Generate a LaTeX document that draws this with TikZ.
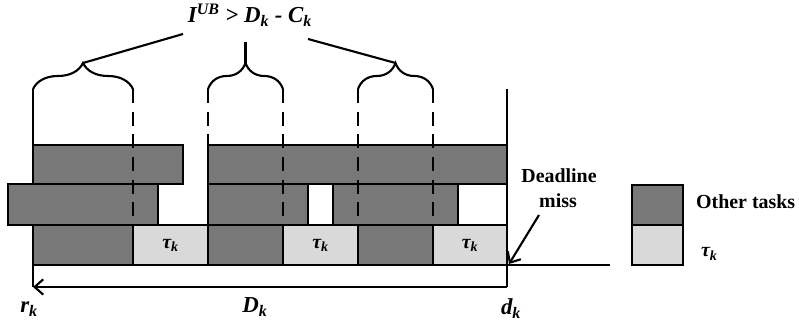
\documentclass[tikz,border=0pt]{standalone}
\usepackage{fontspec}
\setmainfont{Liberation Serif}
\usetikzlibrary{decorations.pathreplacing,arrows.meta}

\tikzset{
    other/.style={draw,line width=1.8pt,fill=black!53},
    own/.style={draw,line width=1.8pt,fill=black!15},
    guide/.style={line width=1.8pt,dash pattern=on 4.2mm off 2.6mm},
    curly/.style={line width=1.8pt,decorate,decoration={brace,amplitude=7.8mm}},
    barb/.style={line width=1.8pt,-{Straight Barb[length=2.6mm,width=4.6mm]}},
    big/.style={font=\fontsize{19.5}{23}\selectfont\bfseries\itshape},
    small/.style={font=\fontsize{17}{20}\selectfont\bfseries},
    task/.style={font=\fontsize{17}{20}\selectfont\bfseries\itshape}
}

\begin{document}
\begin{tikzpicture}[x=0.3mm,y=-0.3mm]
    \useasboundingbox (0,0) rectangle (799,322);
    % Important coordinates are defined
    \coordinate (rk) at (33,287);
    \coordinate (dk) at (507,287);
    \coordinate (miss) at (509,264);
    \coordinate (tip_1) at (83,63);
    \coordinate (tip_2) at (245.5,63);
    \coordinate (tip_3) at (395.5,63);
    \coordinate (end_1) at (183,34);
    \coordinate (end_2) at (245.5,42);
    \coordinate (end_3) at (308,39);

    % top row
    \draw[other] (33,145) rectangle (183,184);
    \draw[other] (208,145) rectangle (507,184);
    % middle row
    \draw[other] (8,184) rectangle (158,225);
    \draw[other] (208,184) rectangle (308,225);
    \draw[other] (333,184) rectangle (458,225);
    % bottom row
    \draw[other] (33,225) rectangle (133,265);
    \draw[own] (133,225) rectangle (208,265) node[task,midway] (tau_1) {τ\textsubscript{k}};
    \draw[other] (208,225) rectangle (283,265);
    \draw[own] (283,225) rectangle (358,265) node[task,midway] (tau_2) {τ\textsubscript{k}};
    \draw[other] (358,225) rectangle (433,265);
    \draw[own] (433,225) rectangle (507,265) node[task,midway] (tau_3) {τ\textsubscript{k}};
    \draw[line width=1.8pt] (507,265) -- (610,265);

    % dashed guides
    \draw[guide] (133,89) -- (133,225);
    \draw[guide] (208,89) -- (208,145);
    \draw[guide] (283,89) -- (283,225);
    \draw[guide] (358,89) -- (358,225);
    \draw[guide] (433,89) -- (433,225);
    \draw[line width=1.8pt] (33,89) -- (33,145);
    \draw[line width=1.8pt] (33,265) -- (rk);
    \draw[line width=1.8pt] (507,89) -- (dk);

    % braces
    \draw[curly] (33,89) -- (133,89);
    \draw[curly] (208,89) -- (283,89);
    \draw[curly] (358,89) -- (433,89);
    \node[big,anchor=base] (bound) at (250,23)
        {I\textsuperscript{UB} > D\textsubscript{k} - C\textsubscript{k}};
    \draw[line width=1.8pt] (tip_1) -- (end_1);
    \draw[line width=1.8pt] (tip_2) -- (end_2);
    \draw[line width=1.8pt] (tip_3) -- (end_3);

    % deadline
    \draw[barb,{Straight Barb[length=2.6mm,width=4.6mm]}-] (rk) -- (dk);
    \node[big,anchor=base] (r_k) at (29,313) {r\textsubscript{k}};
    \node[big,anchor=base] (D_k) at (255,313) {D\textsubscript{k}};
    \node[big,anchor=base] (d_k) at (511,315) {d\textsubscript{k}};
    \node[small,anchor=base] (dl) at (559,183) {Deadline};
    \node[small,anchor=base] (ms) at (558,208) {miss};
    \draw[barb] (539,215) -- (miss);

    % legend
    \draw[other] (632,185) rectangle (683,225);
    \draw[own] (632,225) rectangle (683,265);
    \node[small,anchor=base west] (lg_1) at (692,209) {Other tasks};
    \node[task,anchor=base west] (lg_2) at (697,257) {τ\textsubscript{k}};
\end{tikzpicture}
\end{document}
